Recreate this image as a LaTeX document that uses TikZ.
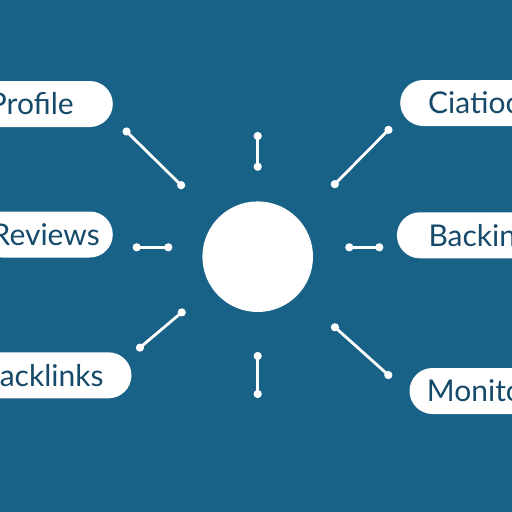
\documentclass[tikz,border=0pt]{standalone}
\usepackage{fontspec}
\setmainfont{Lato}
\usetikzlibrary{arrows.meta}
\definecolor{seabg}{RGB}{24,98,135}
\definecolor{inkblue}{RGB}{22,74,106}
\tikzset{
  pill/.style={fill=white, rounded corners=23pt, minimum height=46pt, text=inkblue,
    font=\fontsize{30}{32}\selectfont},
  spoke/.style={white, line width=2.8pt, {Circle[length=8pt]}-{Circle[length=8pt]}},
}

\begin{document}
\begin{tikzpicture}[x=1pt,y=-1pt]
    \fill[seabg] (0,0) rectangle (512,512);
    \useasboundingbox (0,0) rectangle (512,512);
    \clip (0,0) rectangle (512,512);
    % hub
    \node[circle, fill=white, minimum size=110.6pt, inner sep=0pt] (hub) at (257.7,256.7) {};
    % left pills
    \node[pill, anchor=east, inner xsep=39pt] (profile) at (113,104) {Profile};
    \node[pill, anchor=east, inner xsep=13pt] (reviews) at (113,234.5) {Reviews};
    \node[pill, anchor=east, inner xsep=28pt] (backlinksL) at (131.7,375.3) {acklinks};
    % right pills
    \node[pill, anchor=west, inner xsep=28pt] (citations) at (400,103) {Ciatioc};
    \node[pill, anchor=west, inner xsep=31.6pt] (backlinksR) at (396.7,235.3) {Backin};
    \node[pill, anchor=west, inner xsep=17.4pt] (monitor) at (409.3,391) {Monito};
    % spokes
    \coordinate (tl1) at (184,188);      \coordinate (tl2) at (123.7,128.7);
    \coordinate (t1) at (257.7,170.7);   \coordinate (t2) at (257.7,132);
    \coordinate (tr1) at (332,187);      \coordinate (tr2) at (391.3,127);
    \coordinate (l1) at (172.3,247.3);   \coordinate (l2) at (132.7,247.3);
    \coordinate (r1) at (345.3,247.3);   \coordinate (r2) at (383.3,247.3);
    \coordinate (bl1) at (184.8,309.8);  \coordinate (bl2) at (136.9,350.2);
    \coordinate (b1) at (257.7,352);     \coordinate (b2) at (257.7,398);
    \coordinate (br1) at (332,324.6);    \coordinate (br2) at (391.3,377.7);
    \foreach \s in {tl,t,tr,l,r,bl,b,br}
        \draw[spoke] (\s1) -- (\s2);
\end{tikzpicture}
\end{document}
